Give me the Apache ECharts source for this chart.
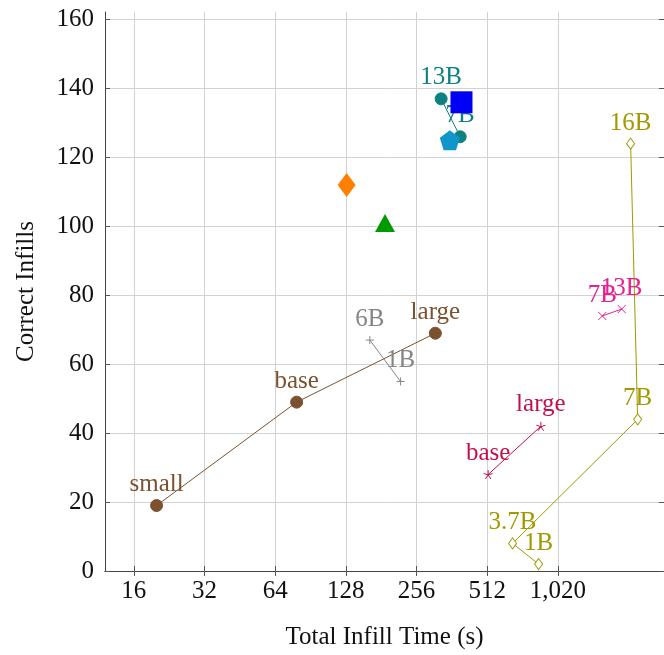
<!DOCTYPE html>
<html>
<head>
<meta charset="utf-8">
<script src="https://cdn.jsdelivr.net/npm/echarts@6/dist/echarts.min.js"></script>
<style>html,body{margin:0;padding:0;background:#fff}#c{width:664px;height:655px}</style>
</head>
<body>
<div id="c"></div>
<script>
// ---- data ----
const xTickValues = [16, 32, 64, 128, 256, 512, 1024];
const xTickLabels = ['16', '32', '64', '128', '256', '512', '1,020'];
const yTickValues = [0, 20, 40, 60, 80, 100, 120, 140, 160];

const brownNames = ['small', 'base', 'large'];
const brownX = [20, 79, 308];
const brownY = [19, 49, 69];

const grayNames = ['6B', '1B'];
const grayX = [162, 219];
const grayY = [67, 55];

const tealNames = ['13B', '7B'];
const tealX = [326, 393];
const tealY = [137, 126];

const blueX = [398];
const blueY = [136];

const cyanX = [355];
const cyanY = [125];

const orangeX = [129];
const orangeY = [112];

const greenX = [188];
const greenY = [101];

const crimsonNames = ['base', 'large'];
const crimsonX = [517, 867];
const crimsonY = [28, 42];

const magentaNames = ['7B', '13B'];
const magentaX = [1584, 1916];
const magentaY = [74, 76];

const oliveNames = ['16B', '7B', '3.7B', '1B'];
const oliveX = [2091, 2241, 657, 848];
const oliveY = [124, 44, 8, 2];

// ---- build ----
const FONT = '"Liberation Serif", "DejaVu Serif", serif';
const FS = 25;
function pts(xs, ys, names) {
  return xs.map((x, i) => names ? { value: [x, ys[i]], name: names[i] } : [x, ys[i]]);
}
function lineSeries(xs, ys, names, color, symbol, size, fill) {
  return {
    type: 'line',
    data: pts(xs, ys, names),
    symbol: symbol,
    symbolSize: size,
    showAllSymbol: true,
    lineStyle: { color: color, width: 1 },
    itemStyle: { color: fill, borderColor: color, borderWidth: 1 },
    label: {
      show: true, position: 'top', distance: 2,
      formatter: p => p.name,
      color: color, fontFamily: FONT, fontSize: FS
    },
    emphasis: { disabled: true },
    z: 3
  };
}
function scatterSeries(xs, ys, color, symbol, size) {
  return {
    type: 'scatter',
    data: pts(xs, ys),
    symbol: symbol,
    symbolSize: size,
    itemStyle: { color: color, opacity: 1 },
    emphasis: { disabled: true },
    z: 4
  };
}
const plusPath = 'path://M0,-1L0,1M-1,0L1,0';
const crossPath = 'path://M-1,-1L1,1M-1,1L1,-1';
const starPath = 'path://M0,0L0,-1M0,0L0.951,-0.309M0,0L0.588,0.809M0,0L-0.588,0.809M0,0L-0.951,-0.309';
const pentaPath = 'path://M0,-1L0.951,-0.309L0.588,0.809L-0.588,0.809L-0.951,-0.309Z';

function labelFor(v) {
  for (let i = 0; i < xTickValues.length; i++) {
    if (Math.abs(Math.log2(v) - Math.log2(xTickValues[i])) < 0.01) return xTickLabels[i];
  }
  return '';
}

const axisLineStyle = { color: '#444', width: 1 };
const tickStyle = { color: '#555', width: 1 };

const chart = echarts.init(document.getElementById('c'), null, { renderer: 'canvas' });
chart.setOption({
  animation: false,
  backgroundColor: '#fff',
  grid: { left: 105, right: 0, top: 12, bottom: 82, containLabel: false },
  xAxis: [{
    type: 'log', logBase: 2, min: 12.06, max: 2901,
    name: 'Total Infill Time (s)', nameLocation: 'middle', nameGap: 54,
    nameTextStyle: { fontFamily: FONT, fontSize: FS, color: '#111' },
    axisLine: { show: true, lineStyle: axisLineStyle },
    axisTick: { show: true, inside: true, length: 5, lineStyle: tickStyle, customValues: xTickValues },
    axisLabel: { show: true, margin: 8, fontFamily: FONT, fontSize: FS, color: '#111', customValues: xTickValues, formatter: labelFor },
    splitLine: { show: true, lineStyle: { color: '#d2d2d2', width: 1 } },
    minorTick: { show: false }
  }, {
    type: 'log', logBase: 2, min: 12.06, max: 2901, position: 'top',
    axisLine: { show: true, lineStyle: axisLineStyle },
    axisTick: { show: true, inside: true, length: 5, lineStyle: tickStyle, customValues: xTickValues },
    axisLabel: { show: false },
    splitLine: { show: false }
  }],
  yAxis: [{
    type: 'value', min: 0, max: 162.2,
    name: 'Correct Infills', nameLocation: 'middle', nameGap: 66,
    nameTextStyle: { fontFamily: FONT, fontSize: FS, color: '#111' },
    axisLine: { show: true, lineStyle: axisLineStyle },
    axisTick: { show: true, inside: true, length: 5, lineStyle: tickStyle, customValues: yTickValues },
    axisLabel: { show: true, margin: 11, fontFamily: FONT, fontSize: FS, color: '#111', customValues: yTickValues },
    splitLine: { show: true, lineStyle: { color: '#d2d2d2', width: 1 } }
  }, {
    type: 'value', min: 0, max: 162.2, position: 'right',
    axisLine: { show: true, lineStyle: axisLineStyle },
    axisTick: { show: true, inside: true, length: 5, lineStyle: tickStyle, customValues: yTickValues },
    axisLabel: { show: false },
    splitLine: { show: false }
  }],
  series: [
    lineSeries(brownX, brownY, brownNames, '#7b5230', 'circle', 12, '#7b5230'),
    lineSeries(grayX, grayY, grayNames, '#858585', plusPath, 8, 'none'),
    lineSeries(tealX, tealY, tealNames, '#0e8282', 'circle', 12, '#0e8282'),
    scatterSeries(blueX, blueY, '#0000f5', 'rect', 22),
    scatterSeries(cyanX, cyanY, '#1196cc', pentaPath, 20),
    scatterSeries(orangeX, orangeY, '#ff8000', 'diamond', [18, 24]),
    scatterSeries(greenX, greenY, '#009a00', 'triangle', [20, 18]),
    lineSeries(crimsonX, crimsonY, crimsonNames, '#c2104a', starPath, 9, 'none'),
    lineSeries(magentaX, magentaY, magentaNames, '#e6208e', crossPath, 8, 'none'),
    lineSeries(oliveX, oliveY, oliveNames, '#a09a00', 'diamond', [8, 11], '#ffffff')
  ]
});
</script>
</body>
</html>
